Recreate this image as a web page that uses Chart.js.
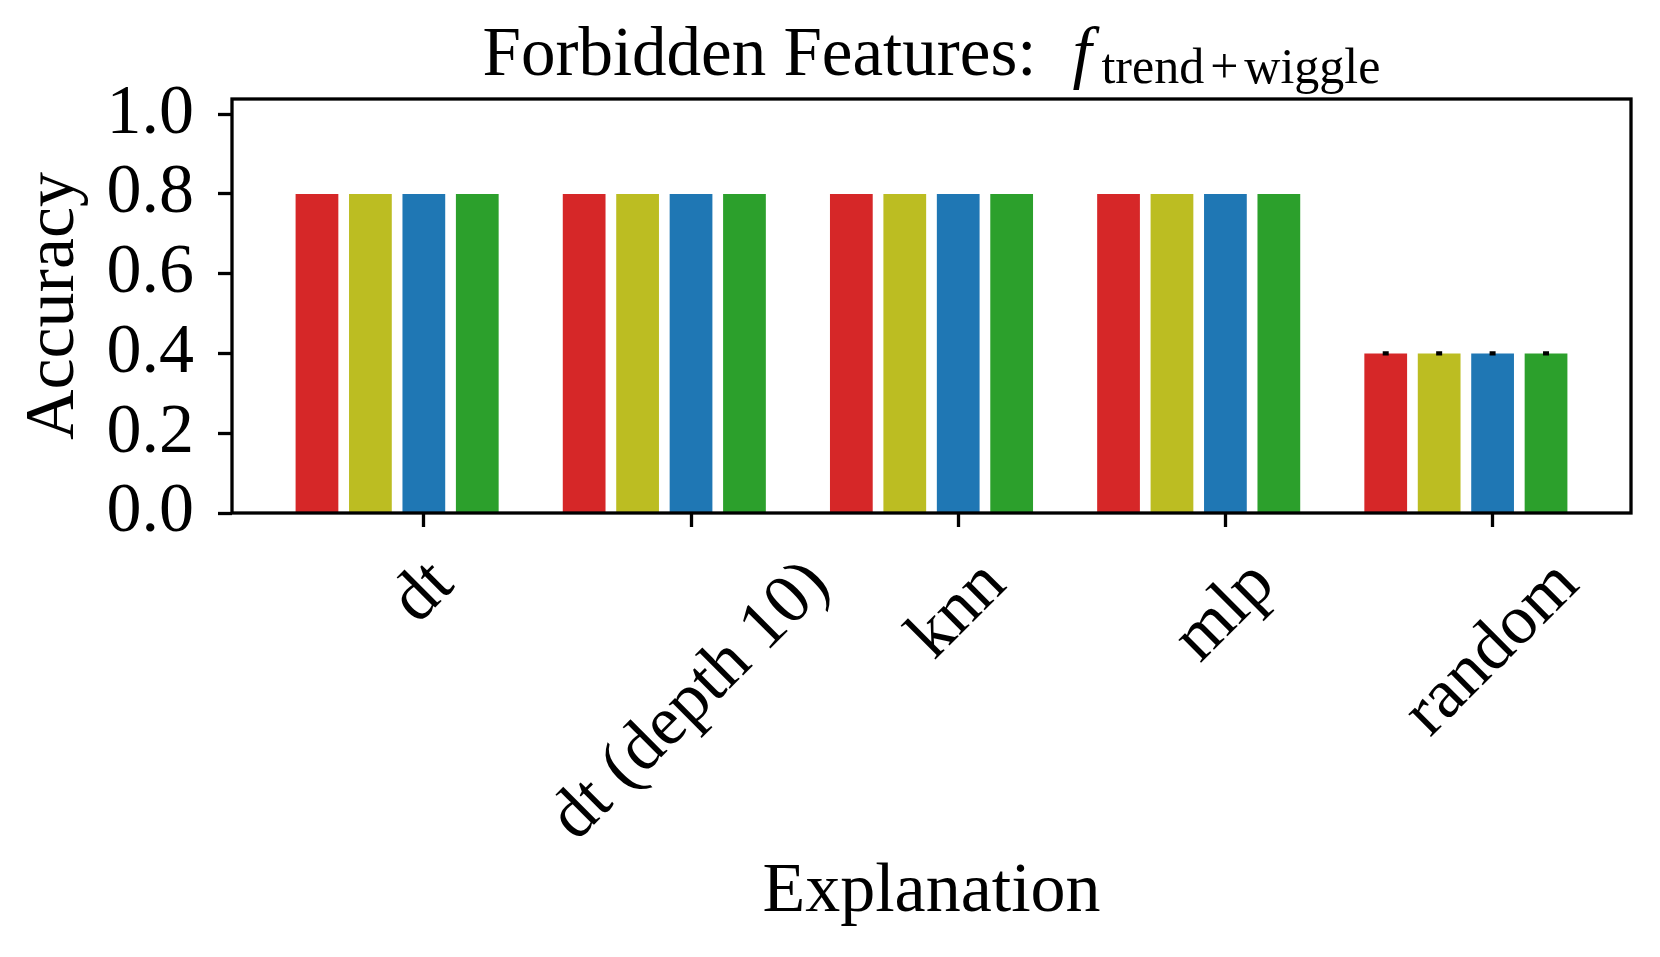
<!DOCTYPE html>
<html>
<head>
<meta charset="utf-8">
<title>Forbidden Features</title>
<script src="https://cdn.jsdelivr.net/npm/chart.js@4.4.1/dist/chart.umd.min.js"></script>
<style>
  html, body { margin: 0; padding: 0; background: #fff; }
  #wrap { width: 1660px; height: 957px; }
</style>
</head>
<body>
<div id="wrap"><canvas id="chartAcc" width="1660" height="957"></canvas></div>
<script>
// data
const categories = ["dt", "dt (depth 10)", "knn", "mlp", "random"];
const redVals    = [0.8, 0.8, 0.8, 0.8, 0.4];
const oliveVals  = [0.8, 0.8, 0.8, 0.8, 0.4];
const blueVals   = [0.8, 0.8, 0.8, 0.8, 0.4];
const greenVals  = [0.8, 0.8, 0.8, 0.8, 0.4];
const redErr     = [0, 0, 0, 0, 0.0025];
const oliveErr   = [0, 0, 0, 0, 0.0025];
const blueErr    = [0, 0, 0, 0, 0.0025];
const greenErr   = [0, 0, 0, 0, 0.0025];
const yTicks     = [0.0, 0.2, 0.4, 0.6, 0.8, 1.0];

const serif = '"Liberation Serif", "Times New Roman", serif';
const slot = 0.2; // width of one bar slot, in category units

const series = [
    { label: "Series 1", vals: redVals,   err: redErr,   color: "#d62728" },
    { label: "Series 2", vals: oliveVals, err: oliveErr, color: "#bcbd22" },
    { label: "Series 3", vals: blueVals,  err: blueErr,  color: "#1f77b4" },
    { label: "Series 4", vals: greenVals, err: greenErr, color: "#2ca02c" }
];

const datasets = series.map((s, j) => ({
    label: s.label,
    data: s.vals.map((v, i) => ({ x: i + (j - 2) * slot, y: v })),
    errors: s.err,
    backgroundColor: s.color,
    borderWidth: 0,
    grouped: false,
    barPercentage: 0.8,
    categoryPercentage: 1.0
}));

// frame like matplotlib spines
const framePlugin = {
    id: "frame",
    afterDatasetsDraw(chart) {
        const { ctx, chartArea: a } = chart;
        ctx.save();
        ctx.strokeStyle = "#000";
        ctx.lineWidth = 3.3;
        ctx.strokeRect(a.left, a.top, a.right - a.left, a.bottom - a.top);
        ctx.restore();
    }
};

// small error bars
const errorPlugin = {
    id: "errors",
    afterDatasetsDraw(chart) {
        const ctx = chart.ctx;
        const yScale = chart.scales.y;
        ctx.save();
        ctx.strokeStyle = "#000";
        ctx.lineWidth = 2.2;
        chart.data.datasets.forEach((ds, j) => {
            const meta = chart.getDatasetMeta(j);
            meta.data.forEach((bar, i) => {
                const e = ds.errors[i];
                if (!e) return;
                const v = ds.data[i].y;
                const y1 = yScale.getPixelForValue(v + e);
                const y2 = yScale.getPixelForValue(v - e);
                ctx.beginPath();
                ctx.moveTo(bar.x, y1); ctx.lineTo(bar.x, y2);
                ctx.moveTo(bar.x - 3, y1); ctx.lineTo(bar.x + 3, y1);
                ctx.moveTo(bar.x - 3, y2); ctx.lineTo(bar.x + 3, y2);
                ctx.stroke();
            });
        });
        ctx.restore();
    }
};

// rotated x labels, box centred under the tick (matplotlib style)
const xLabelPlugin = {
    id: "xLabels",
    afterDraw(chart) {
        const ctx = chart.ctx;
        const xs = chart.scales.x;
        const fs = 70;
        ctx.save();
        ctx.fillStyle = "#000";
        ctx.font = fs + "px " + serif;
        ctx.textAlign = "center";
        ctx.textBaseline = "middle";
        categories.forEach((c, i) => {
            const w = ctx.measureText(c).width;
            const cx = xs.getPixelForValue(i);
            const cy = chart.chartArea.bottom + 36 + (w + fs) / Math.SQRT2 / 2;
            ctx.save();
            ctx.translate(cx, cy);
            ctx.rotate(-Math.PI / 4);
            ctx.fillText(c, 0, 0);
            ctx.restore();
        });
        ctx.restore();
    }
};

// title with math-like subscript
const titlePlugin = {
    id: "mathTitle",
    afterDraw(chart) {
        const ctx = chart.ctx;
        const a = chart.chartArea;
        const main = "Forbidden Features:";
        const base = 75;
        ctx.save();
        ctx.fillStyle = "#000";
        ctx.textBaseline = "alphabetic";
        ctx.textAlign = "left";
        ctx.font = "69px " + serif;
        const w1 = ctx.measureText(main).width;
        ctx.font = "50px " + serif;
        const wt = ctx.measureText("trend").width;
        const wp = ctx.measureText("+").width;
        const ww = ctx.measureText("wiggle").width;
        const sp = 6;
        const wsub = wt + sp + wp + sp + ww;
        const total = w1 + 36 + 29 + wsub;
        const x0 = (a.left + a.right) / 2 - total / 2;
        ctx.font = "69px " + serif;
        ctx.fillText(main, x0, base);
        const fx = x0 + w1 + 36;
        ctx.font = "italic 69px " + serif;
        ctx.fillText("f", fx, base);
        let sx = fx + 29;
        const sb = base + 8;
        ctx.font = "50px " + serif;
        ctx.fillText("trend", sx, sb); sx += wt + sp;
        ctx.fillText("+", sx, sb); sx += wp + sp;
        ctx.fillText("wiggle", sx, sb);
        ctx.restore();
    }
};

new Chart(document.getElementById("chartAcc"), {
    type: "bar",
    data: { datasets: datasets },
    plugins: [framePlugin, errorPlugin, xLabelPlugin, titlePlugin],
    options: {
        responsive: false,
        animation: false,
        layout: { padding: { top: 99, right: 29, left: 0, bottom: 0 } },
        plugins: {
            legend: { display: false },
            tooltip: { enabled: false },
            title: { display: false }
        },
        scales: {
            x: {
                type: "linear",
                offset: false,
                min: -0.718,
                max: 4.518,
                afterBuildTicks: (scale) => { scale.ticks = categories.map((c, i) => ({ value: i })); },
                afterFit: (scale) => { scale.height = 444; scale.paddingLeft = 0; scale.paddingRight = 0; },
                ticks: { display: false },
                border: { display: false },
                grid: {
                    offset: false,
                    drawOnChartArea: false, drawTicks: true, tickLength: 14,
                    tickWidth: 3.3, tickColor: "#000"
                },
                title: {
                    display: true,
                    text: "Explanation",
                    color: "#000",
                    font: { family: serif, size: 70, lineHeight: 1 },
                    padding: { top: 0, bottom: 29 }
                }
            },
            y: {
                min: 0,
                max: 1.038,
                afterBuildTicks: (scale) => { scale.ticks = yTicks.map(v => ({ value: v })); },
                afterFit: (scale) => { scale.width = 232; scale.paddingTop = 0; scale.paddingBottom = 0; },
                ticks: {
                    color: "#000",
                    padding: 24,
                    autoSkip: false,
                    font: { family: serif, size: 70 },
                    callback: (v) => Number(v).toFixed(1)
                },
                border: { display: false },
                grid: {
                    drawOnChartArea: false, drawTicks: true, tickLength: 14,
                    tickWidth: 3.3, tickColor: "#000"
                },
                title: {
                    display: true,
                    text: "Accuracy",
                    color: "#000",
                    font: { family: serif, size: 70, lineHeight: 1 },
                    padding: { top: 20, bottom: 0 }
                }
            }
        }
    }
});
</script>
</body>
</html>
